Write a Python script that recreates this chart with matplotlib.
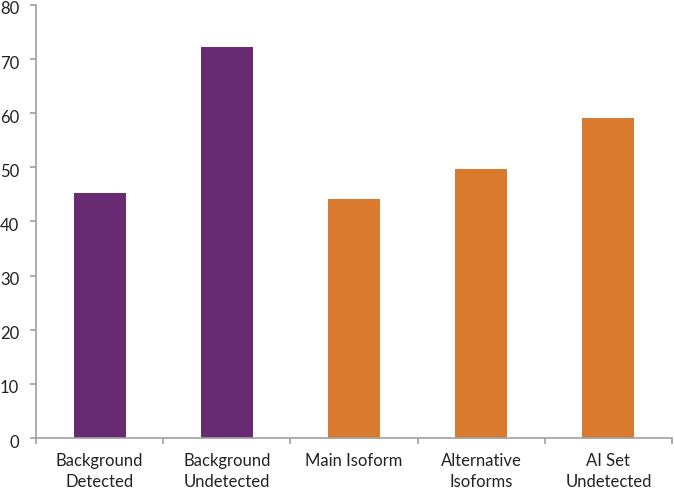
import matplotlib
matplotlib.use("Agg")
import matplotlib.pyplot as plt
import matplotlib.transforms as mtransforms
import numpy as np

categories = ["Background\nDetected", "Background\nUndetected", "Main Isoform", "Alternative\nIsoforms", "AI Set\nUndetected"]
values = [45.3, 72.3, 44.1, 49.7, 59.1]
colors = ["#682B73", "#682B73", "#D97A2F", "#D97A2F", "#D97A2F"]
yticks = [0, 10, 20, 30, 40, 50, 60, 70, 80]

plt.rcParams['font.family'] = ['Lato', 'DejaVu Sans']
fig = plt.figure(figsize=(6.74, 4.93), dpi=100)
ax = fig.add_axes([36/674, 55/493, 636/674, 433/493])
x = np.arange(len(categories))
ax.bar(x, values, width=0.41, color=colors)
ax.set_xlim(-0.5, len(categories) - 0.5)
ax.set_ylim(0, 80)
ax.set_yticks(yticks)
ax.set_xticks(x)
ax.set_xticklabels(categories, fontsize=12, color="#222222", linespacing=1.35)
ax.set_xticks(np.arange(len(categories) + 1) - 0.5, minor=True)
ax.tick_params(axis='x', which='major', length=0, pad=11)
ax.tick_params(axis='x', which='minor', length=4, color="#A0A0A0", width=1.2)
ax.tick_params(axis='y', length=4, color="#A0A0A0", width=1.2, labelsize=12, labelcolor="#222222", pad=8)
offset = mtransforms.ScaledTranslation(0, -3/100, fig.dpi_scale_trans)
for lbl in ax.get_yticklabels():
    lbl.set_transform(lbl.get_transform() + offset)
for s in ['top', 'right']:
    ax.spines[s].set_visible(False)
for s in ['left', 'bottom']:
    ax.spines[s].set_color("#A0A0A0")
    ax.spines[s].set_linewidth(1.2)
fig.savefig("out.png", dpi=100)
